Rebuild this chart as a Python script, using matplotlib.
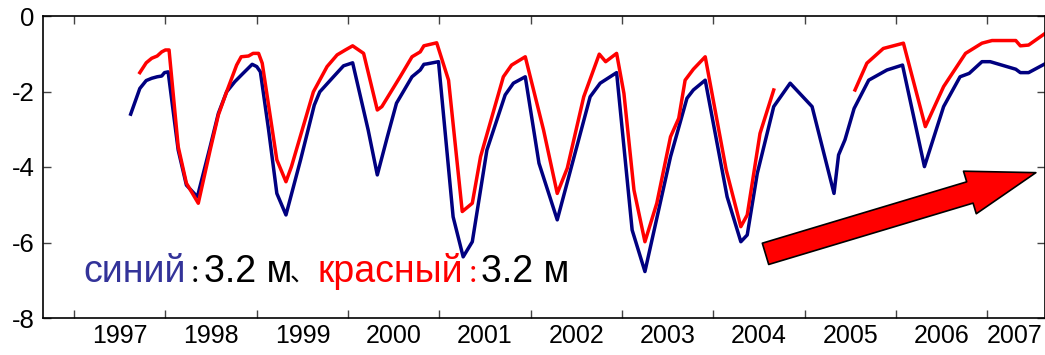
import numpy as np
import matplotlib
matplotlib.use("Agg")
import matplotlib.pyplot as plt

plt.rcParams['font.family'] = ['Liberation Sans', 'Noto Sans CJK SC', 'DejaVu Sans']

# Data (decimal year, level in m)

blue_t = [1997.62, 1997.72, 1997.79, 1997.85, 1997.91, 1997.96, 1997.99, 1998.03,
          1998.14, 1998.23, 1998.35, 1998.49, 1998.58, 1998.67, 1998.76, 1998.85,
          1998.95, 1999.00, 1999.04, 1999.13, 1999.22, 1999.32, 1999.48, 1999.63,
          1999.69, 1999.84, 1999.95, 2000.05, 2000.22, 2000.32, 2000.43, 2000.53,
          2000.70, 2000.79, 2000.83, 2000.86, 2000.99, 2001.15, 2001.26, 2001.36,
          2001.52, 2001.72, 2001.81, 2001.94, 2002.09, 2002.29, 2002.65, 2002.76,
          2002.94, 2003.11, 2003.25, 2003.53, 2003.71, 2003.78, 2003.91, 2004.15,
          2004.30, 2004.37, 2004.48, 2004.66, 2004.84, 2005.08, 2005.32, 2005.37,
          2005.44, 2005.54, 2005.70, 2005.90, 2006.07, 2006.31, 2006.52, 2006.70,
          2006.80, 2006.94, 2007.03, 2007.31, 2007.36, 2007.45, 2007.62]
blue_v = [-2.60, -1.92, -1.71, -1.65, -1.61, -1.59, -1.50, -1.48,
          -3.55, -4.48, -4.79, -3.46, -2.58, -2.01, -1.74, -1.52,
          -1.28, -1.34, -1.48, -3.02, -4.70, -5.27, -3.81, -2.36,
          -2.01, -1.61, -1.32, -1.24, -3.02, -4.21, -3.20, -2.31,
          -1.61, -1.43, -1.28, -1.27, -1.21, -5.32, -6.38, -5.98,
          -3.55, -2.09, -1.78, -1.61, -3.90, -5.40, -2.14, -1.78,
          -1.50, -5.67, -6.77, -3.73, -2.18, -1.96, -1.70, -4.79,
          -5.98, -5.80, -4.17, -2.40, -1.78, -2.40, -4.70, -3.68,
          -3.28, -2.45, -1.70, -1.43, -1.30, -3.99, -2.40, -1.61,
          -1.52, -1.21, -1.21, -1.41, -1.50, -1.50, -1.28]

red_t = [1997.72, 1997.79, 1997.85, 1997.91, 1997.96, 1998.00, 1998.04, 1998.14,
         1998.23, 1998.36, 1998.49, 1998.58, 1998.67, 1998.78, 1998.83, 1998.91,
         1998.96, 1999.02, 1999.06, 1999.22, 1999.32, 1999.38, 1999.62, 1999.77,
         1999.88, 1999.97, 2000.05, 2000.17, 2000.32, 2000.37, 2000.57, 2000.70,
         2000.79, 2000.83, 2000.97, 2001.10, 2001.25, 2001.36, 2001.45, 2001.70,
         2001.79, 2001.94, 2002.14, 2002.29, 2002.40, 2002.58, 2002.75, 2002.82,
         2002.94, 2003.02, 2003.13, 2003.25, 2003.38, 2003.53, 2003.62, 2003.69,
         2003.78, 2003.91, 2004.14, 2004.30, 2004.37, 2004.51, 2004.66,
         np.nan,
         2005.55, 2005.68, 2005.86, 2006.08, 2006.32, 2006.52, 2006.76, 2006.94,
         2007.05, 2007.31, 2007.36, 2007.45, 2007.62]
red_v = [-1.50, -1.24, -1.12, -1.06, -0.95, -0.90, -0.90, -3.46,
         -4.43, -4.96, -3.55, -2.62, -2.01, -1.30, -1.08, -1.06,
         -0.99, -0.99, -1.25, -3.81, -4.39, -3.99, -2.01, -1.34,
         -1.03, -0.90, -0.79, -0.99, -2.49, -2.40, -1.61, -1.08,
         -0.95, -0.79, -0.71, -1.70, -5.18, -4.96, -3.73, -1.61,
         -1.30, -1.08, -3.02, -4.70, -4.03, -2.14, -1.01, -1.21,
         -0.99, -2.05, -4.61, -5.98, -4.96, -3.20, -2.71, -1.70,
         -1.41, -1.08, -4.08, -5.58, -5.27, -3.11, -1.96,
         np.nan,
         -1.96, -1.25, -0.86, -0.72, -2.93, -1.87, -0.99, -0.72,
         -0.65, -0.65, -0.79, -0.77, -0.48]

years = [str(y) for y in range(1997, 2008)]
year_pos = [1997.5, 1998.5, 1999.5, 2000.5, 2001.5, 2002.5, 2003.5, 2004.5,
            2005.5, 2006.5, 2007.3]

# Plot

fig = plt.figure(figsize=(10.45, 3.55), dpi=100)
ax = fig.add_axes([43 / 1045, 1 - 318 / 355, 1 - 43 / 1045, (318 - 16) / 355])

ax.plot(blue_t, blue_v, color='#000080', linewidth=2.5)
ax.plot(red_t, red_v, color='#ff0000', linewidth=2.5)

ax.set_xlim(1996.66, 2007.63)
ax.set_ylim(-8, 0)

ax.set_yticks([0, -2, -4, -6, -8])
ax.set_yticklabels(['0', '-2', '-4', '-6', '-8'])
ax.set_xticks(np.arange(1997, 2008))
ax.set_xticklabels([])
ax.set_xticks(year_pos, minor=True)
ax.set_xticklabels(years, minor=True)

ax.tick_params(axis='both', which='major', direction='in', length=6, width=1,
               color='#444444', top=True, right=True, labelsize=18.5, pad=6)
ax.tick_params(axis='x', which='minor', length=0, labelsize=18, pad=4)
for s in ax.spines.values():
    s.set_linewidth(1.2)

# trend arrow
ax.annotate('', xy=(2007.53, -4.15), xytext=(2004.57, -6.30),
            arrowprops=dict(arrowstyle='simple,head_width=2.0,head_length=3.1,tail_width=1.0',
                            mutation_scale=16, fc='#ff0000', ec='black', lw=1.2,
                            shrinkA=0, shrinkB=0))

# labels
base = 1 - 282 / 355
fs = 27
fig.text(83 / 1045, base, 'синий', color='#333399', fontsize=fs, va='baseline')
fig.text(189 / 1045, base, '：', color='black', fontsize=18, va='baseline')
fig.text(204 / 1045, base, '3.2 м', color='black', fontsize=fs, va='baseline')
fig.text(290 / 1045, base, '、', color='black', fontsize=18, va='baseline')
fig.text(317 / 1045, base, 'красный', color='#ff0000', fontsize=fs, va='baseline')
fig.text(467 / 1045, base, '：', color='#ff0000', fontsize=18, va='baseline')
fig.text(481 / 1045, base, '3.2 м', color='black', fontsize=fs, va='baseline')

fig.savefig('out.png', dpi=100)
